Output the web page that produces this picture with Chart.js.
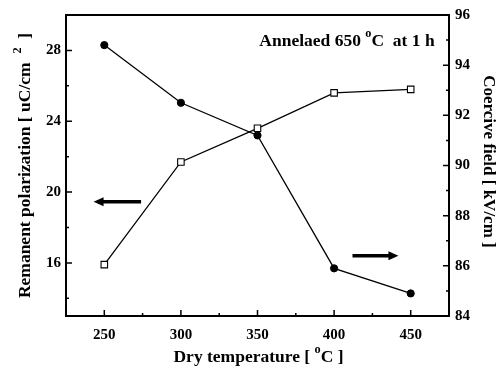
<!DOCTYPE html>
<html>
<head>
<meta charset="utf-8">
<script src="https://cdn.jsdelivr.net/npm/chart.js@4.4.0/dist/chart.umd.min.js"></script>
<style>
  html, body { margin: 0; padding: 0; background: #fff; }
  #wrap { width: 502px; height: 376px; }
</style>
</head>
<body>
<div id="wrap"><canvas id="myChart" width="502" height="376"></canvas></div>
<script>
'use strict';

// dry temperature (C)
var temps = [250, 300, 350, 400, 450];
// remanent polarization (uC/cm2), left axis, open squares
var polarization = [15.9, 21.7, 23.6, 25.6, 25.8];
// coercive field (kV/cm), right axis, filled circles
var coercive = [94.8, 92.5, 91.2, 85.9, 84.9];

var xTicks = [250, 300, 350, 400, 450];
var xMinor = [275, 325, 375, 425];
var leftTicks = [16, 20, 24, 28];
var leftMinor = [14, 18, 22, 26];
var rightTicks = [84, 86, 88, 90, 92, 94, 96];
var rightMinor = [85, 87, 89, 91, 93, 95];

var FONT = '"Liberation Serif", "DejaVu Serif", serif';
var tickFont = { family: FONT, size: 15, weight: 'bold' };

function toPoints(ys) {
    return temps.map(function (t, i) { return { x: t, y: ys[i] }; });
}

function setTicks(values) {
    return function (scale) {
        scale.ticks = values.map(function (v) { return { value: v }; });
    };
}

// text with superscript pieces, centred on (cx, cy)
function drawRich(ctx, parts, cx, cy, size) {
    var total = 0;
    parts.forEach(function (p) {
        ctx.font = 'bold ' + (p.sup ? size * 0.7 : size) + 'px ' + FONT;
        p.w = ctx.measureText(p.t).width;
        total += p.w;
    });
    var x = cx - total / 2;
    ctx.textAlign = 'left';
    ctx.textBaseline = 'middle';
    parts.forEach(function (p) {
        ctx.font = 'bold ' + (p.sup ? size * 0.7 : size) + 'px ' + FONT;
        ctx.fillText(p.t, x, p.sup ? cy - size * 0.42 : cy);
        x += p.w;
    });
}

function drawArrow(ctx, x1, y1, x2, y2) {
    var dir = x2 > x1 ? 1 : -1;
    ctx.lineWidth = 3.5;
    ctx.beginPath();
    ctx.moveTo(x1, y1);
    ctx.lineTo(x2 - dir * 7, y2);
    ctx.stroke();
    ctx.beginPath();
    ctx.moveTo(x2, y2);
    ctx.lineTo(x2 - dir * 10, y2 - 4.5);
    ctx.lineTo(x2 - dir * 10, y2 + 4.5);
    ctx.closePath();
    ctx.fill();
}

var framePlugin = {
    id: 'frame',
    afterDraw: function (chart) {
        var ctx = chart.ctx;
        var a = chart.chartArea;
        var sx = chart.scales.x;
        var sy = chart.scales.y;
        var sy1 = chart.scales.y1;
        var midY = (a.top + a.bottom) / 2;

        ctx.save();
        ctx.strokeStyle = '#000';
        ctx.fillStyle = '#000';

        // box
        ctx.lineWidth = 2;
        ctx.strokeRect(a.left, a.top, a.right - a.left, a.bottom - a.top);

        // inward tick marks
        ctx.lineWidth = 1.5;
        ctx.beginPath();
        xTicks.concat(xMinor).forEach(function (v) {
            var px = sx.getPixelForValue(v);
            var len = xMinor.indexOf(v) >= 0 ? 3 : 6;
            ctx.moveTo(px, a.bottom);
            ctx.lineTo(px, a.bottom - len);
        });
        leftTicks.concat(leftMinor).forEach(function (v) {
            var py = sy.getPixelForValue(v);
            var len = leftMinor.indexOf(v) >= 0 ? 3 : 6;
            ctx.moveTo(a.left, py);
            ctx.lineTo(a.left + len, py);
        });
        rightTicks.concat(rightMinor).forEach(function (v) {
            var py = sy1.getPixelForValue(v);
            var len = rightMinor.indexOf(v) >= 0 ? 3 : 6;
            ctx.moveTo(a.right, py);
            ctx.lineTo(a.right - len, py);
        });
        ctx.stroke();

        // arrows showing which axis each curve belongs to
        drawArrow(ctx, sx.getPixelForValue(274), sy.getPixelForValue(19.45),
            sx.getPixelForValue(243), sy.getPixelForValue(19.45));
        drawArrow(ctx, sx.getPixelForValue(412), sy1.getPixelForValue(86.4),
            sx.getPixelForValue(442), sy1.getPixelForValue(86.4));

        // axis titles
        drawRich(ctx, [{ t: 'Dry temperature [ ' }, { t: 'o', sup: true }, { t: 'C ]' }],
            (a.left + a.right) / 2 + 1, a.bottom + 41, 17.5);

        ctx.save();
        ctx.translate(25, midY);
        ctx.rotate(-Math.PI / 2);
        drawRich(ctx, [{ t: 'Remanent polarization [ uC/cm  ' }, { t: '2', sup: true }, { t: '  ]' }], 0, 0, 17.5);
        ctx.restore();

        ctx.save();
        ctx.translate(488, midY - 4);
        ctx.rotate(Math.PI / 2);
        drawRich(ctx, [{ t: 'Coercive field [ kV/cm ]' }], 0, 0, 17);
        ctx.restore();

        // annealing note
        drawRich(ctx, [{ t: 'Annelaed 650 ' }, { t: 'o', sup: true }, { t: 'C  at 1 h' }],
            347, 41, 17.5);

        ctx.restore();
    }
};

var ctx = document.getElementById('myChart').getContext('2d');
var chart = new Chart(ctx, {
    type: 'scatter',
    data: {
        datasets: [{
            label: 'Remanent polarization',
            data: toPoints(polarization),
            yAxisID: 'y',
            showLine: true,
            borderColor: '#000',
            borderWidth: 1.3,
            pointStyle: 'rect',
            pointRadius: 4.6,
            pointBackgroundColor: '#fff',
            pointBorderColor: '#000',
            pointBorderWidth: 1.1
        },
        {
            label: 'Coercive field',
            data: toPoints(coercive),
            yAxisID: 'y1',
            showLine: true,
            borderColor: '#000',
            borderWidth: 1.3,
            pointStyle: 'circle',
            pointRadius: 3.6,
            pointBackgroundColor: '#000',
            pointBorderColor: '#000',
            pointBorderWidth: 1
        }]
    },
    options: {
        responsive: false,
        animation: false,
        devicePixelRatio: 1,
        layout: { padding: { top: 13, left: 0, right: 0, bottom: 0 } },
        plugins: {
            legend: { display: false },
            tooltip: { enabled: false }
        },
        scales: {
            x: {
                type: 'linear',
                position: 'bottom',
                min: 225,
                max: 475,
                grid: { display: false, drawTicks: false },
                border: { display: false },
                ticks: { font: tickFont, color: '#000', padding: 10, maxRotation: 0 },
                afterBuildTicks: setTicks(xTicks),
                afterFit: function (s) { s.height = 60; }
            },
            y: {
                type: 'linear',
                position: 'left',
                min: 13,
                max: 30,
                grid: { display: false, drawTicks: false },
                border: { display: false },
                ticks: { font: tickFont, color: '#000', padding: 5 },
                afterBuildTicks: setTicks(leftTicks),
                afterFit: function (s) { s.width = 66; }
            },
            y1: {
                type: 'linear',
                position: 'right',
                min: 84,
                max: 96,
                grid: { display: false, drawTicks: false },
                border: { display: false },
                ticks: { font: tickFont, color: '#000', padding: 6 },
                afterBuildTicks: setTicks(rightTicks),
                afterFit: function (s) { s.width = 53; }
            }
        }
    },
    plugins: [framePlugin]
});
</script>
</body>
</html>
